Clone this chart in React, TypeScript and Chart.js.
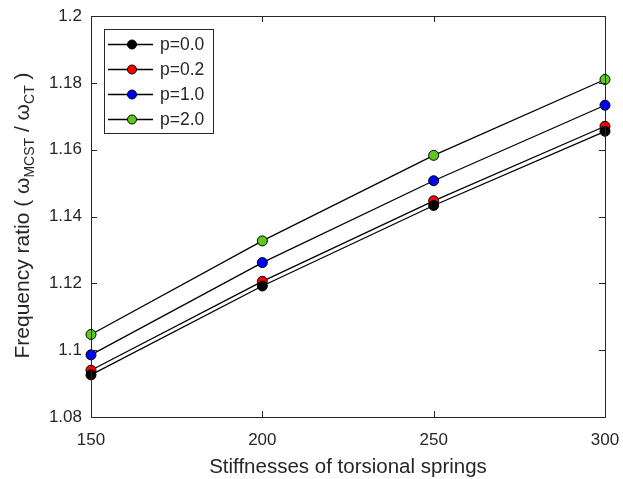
import React, { useEffect, useRef } from "react";
import { Chart, registerables } from "chart.js";

Chart.register(...registerables);

const stiffness = [150, 200, 250, 300];
const p00 = [1.0926, 1.1192, 1.1433, 1.1655];
const p02 = [1.094, 1.1206, 1.1447, 1.167];
const p10 = [1.0986, 1.1262, 1.1507, 1.1733];
const p20 = [1.1047, 1.1327, 1.1583, 1.181];
const seriesLabels = ["p=0.0", "p=0.2", "p=1.0", "p=2.0"];
const seriesColors = ["#000000", "#ff0000", "#0000ff", "#5fc81e"];
const xTicks = [150, 200, 250, 300];
const yTicks = [1.08, 1.1, 1.12, 1.14, 1.16, 1.18, 1.2];
const xTitle = "Stiffnesses of torsional springs";

const FONT = "'Liberation Sans', Arial, Helvetica, sans-serif";
const AXIS_COLOR = "#262626";

const framePlugin = {
  id: "frame",
  afterDatasetsDraw(chart: any) {
    const { ctx, chartArea: a, scales } = chart;
    ctx.save();
    ctx.strokeStyle = AXIS_COLOR;
    ctx.lineWidth = 1;
    ctx.strokeRect(a.left + 0.5, a.top + 0.5, a.right - a.left, a.bottom - a.top);
    const tl = 6;
    ctx.beginPath();
    for (const v of xTicks) {
      const x = Math.round(scales.x.getPixelForValue(v)) + 0.5;
      ctx.moveTo(x, a.bottom);
      ctx.lineTo(x, a.bottom - tl);
      ctx.moveTo(x, a.top);
      ctx.lineTo(x, a.top + tl);
    }
    for (const v of yTicks) {
      const y = Math.round(scales.y.getPixelForValue(v)) + 0.5;
      ctx.moveTo(a.left, y);
      ctx.lineTo(a.left + tl, y);
      ctx.moveTo(a.right, y);
      ctx.lineTo(a.right - tl, y);
    }
    ctx.stroke();
    ctx.restore();
  },
  afterDraw(chart: any) {
    const { ctx, chartArea: a } = chart;
    // legend
    ctx.save();
    const bx = a.left + 13, by = a.top + 13, bw = 109, bh = 104;
    ctx.fillStyle = "#ffffff";
    ctx.fillRect(bx, by, bw, bh);
    ctx.strokeStyle = AXIS_COLOR;
    ctx.lineWidth = 1;
    ctx.strokeRect(bx + 0.5, by + 0.5, bw, bh);
    ctx.font = `17.5px ${FONT}`;
    ctx.textBaseline = "middle";
    seriesLabels.forEach((lab, i) => {
      const y = by + 15.5 + i * 25;
      ctx.strokeStyle = "#000000";
      ctx.lineWidth = 1.3;
      ctx.beginPath();
      ctx.moveTo(bx + 4, y);
      ctx.lineTo(bx + 49, y);
      ctx.stroke();
      ctx.beginPath();
      ctx.arc(bx + 28, y, 4.5, 0, Math.PI * 2);
      ctx.fillStyle = seriesColors[i];
      ctx.fill();
      ctx.lineWidth = 1;
      ctx.stroke();
      ctx.fillStyle = AXIS_COLOR;
      ctx.textAlign = "left";
      ctx.fillText(lab, bx + 56, y + 1);
    });
    ctx.restore();

    // x title
    ctx.save();
    ctx.font = `20.5px ${FONT}`;
    ctx.fillStyle = AXIS_COLOR;
    ctx.textAlign = "center";
    ctx.textBaseline = "alphabetic";
    ctx.fillText(xTitle, (a.left + a.right) / 2, 473);
    ctx.restore();

    // y title with subscripts
    ctx.save();
    const parts: [string, boolean][] = [
      ["Frequency ratio ( \u03c9", false],
      ["MCST", true],
      [" / \u03c9", false],
      ["CT", true],
      [" )", false],
    ];
    const big = `21px ${FONT}`;
    const small = `14px ${FONT}`;
    let total = 0;
    for (const [t, sub] of parts) {
      ctx.font = sub ? small : big;
      total += ctx.measureText(t).width;
    }
    ctx.translate(24, (a.top + a.bottom) / 2 - 1);
    ctx.rotate(-Math.PI / 2);
    ctx.fillStyle = AXIS_COLOR;
    ctx.textAlign = "left";
    ctx.textBaseline = "alphabetic";
    let x = -total / 2;
    for (const [t, sub] of parts) {
      ctx.font = sub ? small : big;
      ctx.fillText(t, x, sub ? 10 : 5);
      x += ctx.measureText(t).width;
    }
    ctx.restore();
  },
};

export default function App() {
  const ref = useRef<HTMLCanvasElement | null>(null);
  useEffect(() => {
    document.body.style.margin = "0";
    const data = [p00, p02, p10, p20];
    const chart = new Chart(ref.current as HTMLCanvasElement, {
      type: "line",
      data: {
        datasets: data.map((vals, i) => ({
          label: seriesLabels[i],
          data: vals.map((v, j) => ({ x: stiffness[j], y: v })),
          borderColor: "#000000",
          borderWidth: 1.3,
          pointBackgroundColor: seriesColors[i],
          pointBorderColor: "#000000",
          pointBorderWidth: 1,
          pointRadius: 5,
          tension: 0,
          clip: false as any,
        })),
      },
      options: {
        animation: false,
        responsive: false,
        layout: { padding: { top: 16, right: 18, left: 0, bottom: 0 } },
        plugins: { legend: { display: false }, tooltip: { enabled: false } },
        scales: {
          x: {
            type: "linear",
            min: 150,
            max: 300,
            afterBuildTicks: (s: any) => {
              s.ticks = xTicks.map((v) => ({ value: v }));
            },
            afterFit: (s: any) => {
              s.height = 62;
              s.paddingLeft = 0;
              s.paddingRight = 0;
            },
            grid: { display: false, drawTicks: false },
            border: { display: false },
            ticks: {
              color: AXIS_COLOR,
              font: { family: FONT, size: 17 },
              padding: 13,
              maxRotation: 0,
            },
          },
          y: {
            type: "linear",
            min: 1.08,
            max: 1.2,
            afterBuildTicks: (s: any) => {
              s.ticks = yTicks.map((v) => ({ value: v }));
            },
            afterFit: (s: any) => {
              s.width = 91;
              s.paddingTop = 0;
              s.paddingBottom = 0;
            },
            grid: { display: false, drawTicks: false },
            border: { display: false },
            ticks: {
              color: AXIS_COLOR,
              font: { family: FONT, size: 17 },
              padding: 9,
              callback: (v: any) => String(Number(Number(v).toFixed(2))),
            },
          },
        },
      },
      plugins: [framePlugin],
    } as any);
    return () => chart.destroy();
  }, []);
  return <canvas ref={ref} width={623} height={479} style={{ display: "block" }} />;
}
